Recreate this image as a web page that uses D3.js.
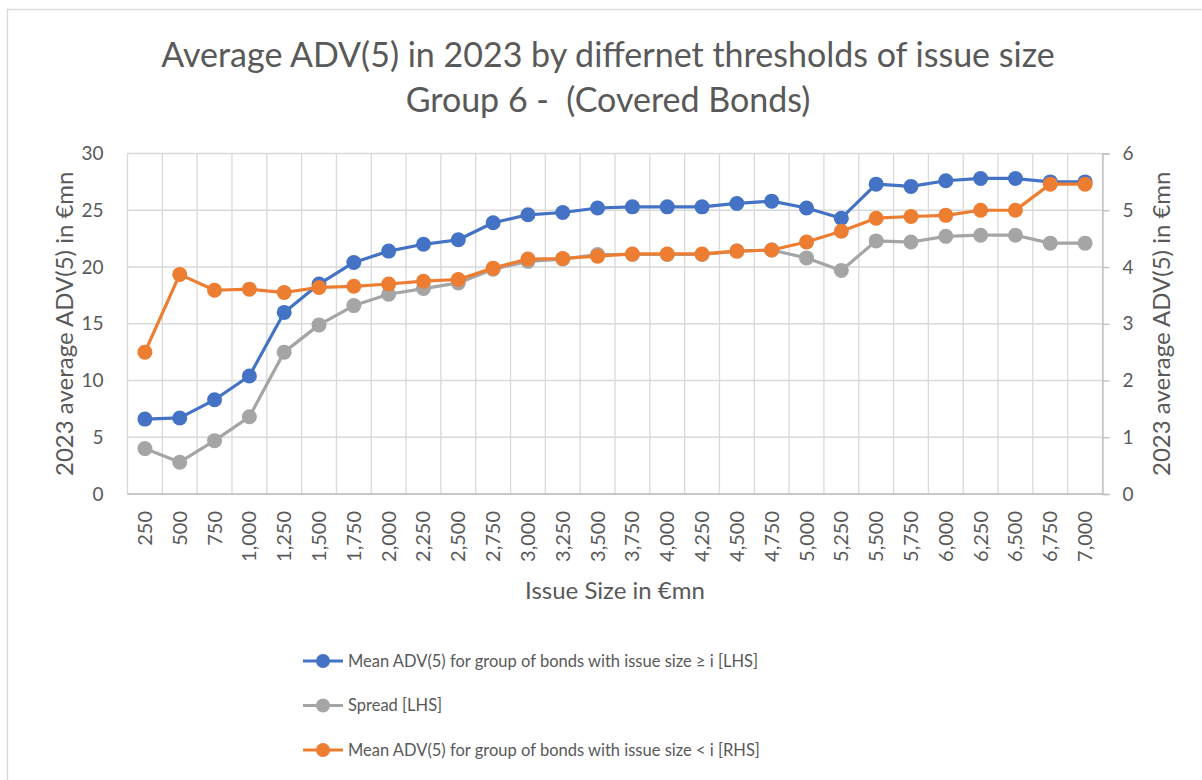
<!DOCTYPE html>
<html lang="en">
  <head>
    <meta charset="utf-8" />
    <title>Average ADV(5) by issue size</title>
    <script src="https://cdnjs.cloudflare.com/ajax/libs/d3/7.8.5/d3.min.js"></script>
    <style>
      body {
        margin: 0;
        background: #ffffff;
        font-family: "Lato", "Open Sans", sans-serif;
      }
      .grid line {
        stroke: #d9d9d9;
        stroke-width: 1.3px;
      }
      text {
        fill: #595959;
      }
    </style>
  </head>
  <body>
    <div id="chart"></div>
    <script>
      // issue size thresholds (€mn)
      const sizes = [
        250, 500, 750, 1000, 1250, 1500, 1750, 2000, 2250, 2500, 2750, 3000,
        3250, 3500, 3750, 4000, 4250, 4500, 4750, 5000, 5250, 5500, 5750,
        6000, 6250, 6500, 6750, 7000,
      ];

      // mean ADV(5), issue size >= i  [LHS]
      const meanAbove = [
        6.6, 6.7, 8.3, 10.4, 16.0, 18.5, 20.4, 21.4, 22.0, 22.4, 23.9, 24.6,
        24.8, 25.2, 25.3, 25.3, 25.3, 25.6, 25.8, 25.2, 24.3, 27.3, 27.1,
        27.6, 27.8, 27.8, 27.5, 27.5,
      ];

      // spread [LHS]
      const spread = [
        4.0, 2.8, 4.7, 6.8, 12.5, 14.9, 16.6, 17.6, 18.1, 18.6, 19.8, 20.5,
        20.7, 21.1, 21.1, 21.1, 21.1, 21.4, 21.5, 20.8, 19.7, 22.3, 22.2,
        22.7, 22.8, 22.8, 22.1, 22.1,
      ];

      // mean ADV(5), issue size < i  [RHS]
      const meanBelow = [
        2.5, 3.87, 3.59, 3.61, 3.55, 3.64, 3.66, 3.7, 3.75, 3.78, 3.98, 4.14,
        4.15, 4.19, 4.23, 4.23, 4.23, 4.28, 4.3, 4.44, 4.63, 4.86, 4.89,
        4.91, 5.0, 5.0, 5.46, 5.46,
      ];

      const leftTicks = [0, 5, 10, 15, 20, 25, 30];
      const rightTicks = [0, 1, 2, 3, 4, 5, 6];

      const series = [
        { name: "Mean ADV(5) for group of bonds with issue size \u2265 i [LHS]", values: meanAbove, color: "#4472c4", axis: "left" },
        { name: "Spread [LHS]", values: spread, color: "#a5a5a5", axis: "left" },
        { name: "Mean ADV(5) for group of bonds with issue size < i [RHS]", values: meanBelow, color: "#ed7d31", axis: "right" },
      ];

      const width = 1202;
      const height = 780;
      const plot = { left: 127.5, right: 1102.5, top: 153.5, bottom: 494 };

      const svg = d3
        .select("#chart")
        .append("svg")
        .attr("width", width)
        .attr("height", height);

      // outer chart border
      svg
        .append("rect")
        .attr("x", 7.5)
        .attr("y", 9.5)
        .attr("width", 1200)
        .attr("height", 780)
        .attr("fill", "none")
        .attr("stroke", "#d9d9d9")
        .attr("stroke-width", 1.3);

      const x = d3
        .scaleBand()
        .domain(sizes)
        .range([plot.left, plot.right]);

      const yL = d3.scaleLinear().domain([0, 30]).range([plot.bottom, plot.top]);
      const yR = d3.scaleLinear().domain([0, 6]).range([plot.bottom, plot.top]);

      // gridlines
      const grid = svg.append("g").attr("class", "grid");
      grid
        .selectAll(".h")
        .data(leftTicks)
        .enter()
        .append("line")
        .attr("x1", plot.left)
        .attr("x2", plot.right)
        .attr("y1", (d) => yL(d))
        .attr("y2", (d) => yL(d));

      const edges = sizes.map((s) => x(s)).concat([plot.right]);
      grid
        .selectAll(".v")
        .data(edges)
        .enter()
        .append("line")
        .attr("x1", (d) => d)
        .attr("x2", (d) => d)
        .attr("y1", plot.top)
        .attr("y2", plot.bottom);

      // bottom and right axis lines
      svg
        .append("line")
        .attr("x1", plot.left)
        .attr("x2", plot.right)
        .attr("y1", plot.bottom)
        .attr("y2", plot.bottom)
        .attr("stroke", "#bfbfbf")
        .attr("stroke-width", 1.3);

      const rightAxis = svg
        .append("g")
        .attr("transform", `translate(${plot.right},0)`)
        .call(
          d3
            .axisRight(yR)
            .tickValues(rightTicks)
            .tickFormat(d3.format("d"))
            .tickSize(7)
            .tickPadding(13)
        );
      rightAxis.select(".domain").attr("stroke", "#bfbfbf").attr("stroke-width", 1.3);
      rightAxis.selectAll(".tick line").attr("stroke", "#bfbfbf").attr("stroke-width", 1.3);
      rightAxis
        .selectAll("text")
        .attr("font-size", 19)
        .attr("font-family", "Lato, sans-serif")
        .attr("fill", "#595959");

      const leftAxis = svg
        .append("g")
        .attr("transform", `translate(${plot.left},0)`)
        .call(d3.axisLeft(yL).tickValues(leftTicks).tickSize(0).tickPadding(24));
      leftAxis.select(".domain").remove();
      leftAxis
        .selectAll("text")
        .attr("font-size", 19)
        .attr("font-family", "Lato, sans-serif")
        .attr("fill", "#595959");

      // x tick labels, rotated
      const bottomAxis = svg
        .append("g")
        .attr("transform", `translate(0,${plot.bottom})`)
        .call(d3.axisBottom(x).tickSize(0).tickFormat(d3.format(",")));
      bottomAxis.select(".domain").remove();
      bottomAxis
        .selectAll("text")
        .attr("font-size", 20)
        .attr("font-family", "Lato, sans-serif")
        .attr("fill", "#595959")
        .attr("transform", "rotate(-90)")
        .attr("text-anchor", "end")
        .attr("x", -17)
        .attr("y", 0)
        .attr("dy", "0.35em");

      // lines and markers
      series.forEach((s) => {
        const yS = s.axis === "left" ? yL : yR;
        const pts = sizes.map((d, i) => [x(d) + x.bandwidth() / 2, yS(s.values[i])]);
        svg
          .append("path")
          .attr("d", d3.line()(pts))
          .attr("fill", "none")
          .attr("stroke", s.color)
          .attr("stroke-width", 3.2)
          .attr("stroke-linejoin", "round");
        svg
          .append("g")
          .selectAll("circle")
          .data(pts)
          .enter()
          .append("circle")
          .attr("cx", (d) => d[0])
          .attr("cy", (d) => d[1])
          .attr("r", 7.5)
          .attr("fill", s.color);
      });

      // titles
      const title = svg
        .append("text")
        .attr("font-size", 34)
        .attr("text-anchor", "middle")
        .style("white-space", "pre");
      title.append("tspan").attr("x", 608).attr("y", 67).text("Average ADV(5) in 2023 by differnet thresholds of issue size");
      title.append("tspan").attr("x", 608).attr("y", 112).text("Group 6 -  (Covered Bonds)");

      svg
        .append("text")
        .attr("x", (plot.left + plot.right) / 2)
        .attr("y", 599)
        .attr("text-anchor", "middle")
        .attr("font-size", 24)
        .text("Issue Size in \u20acmn");

      svg
        .append("text")
        .attr("transform", `translate(73,${(plot.top + plot.bottom) / 2}) rotate(-90)`)
        .attr("text-anchor", "middle")
        .attr("font-size", 24)
        .text("2023 average ADV(5) in \u20acmn");

      svg
        .append("text")
        .attr("transform", `translate(1170,${(plot.top + plot.bottom) / 2}) rotate(-90)`)
        .attr("text-anchor", "middle")
        .attr("font-size", 24)
        .text("2023 average ADV(5) in \u20acmn");

      // legend
      const legend = svg
        .selectAll(".legend")
        .data(series)
        .enter()
        .append("g")
        .attr("transform", (d, i) => `translate(303,${661 + i * 44.5})`);
      legend
        .append("line")
        .attr("x1", 0)
        .attr("x2", 40)
        .attr("stroke", (d) => d.color)
        .attr("stroke-width", 3.2);
      legend
        .append("circle")
        .attr("cx", 20)
        .attr("r", 7)
        .attr("fill", (d) => d.color);
      legend
        .append("text")
        .attr("x", 45)
        .attr("dy", "0.35em")
        .attr("font-size", 16.5)
        .text((d) => d.name);
    </script>
  </body>
</html>
